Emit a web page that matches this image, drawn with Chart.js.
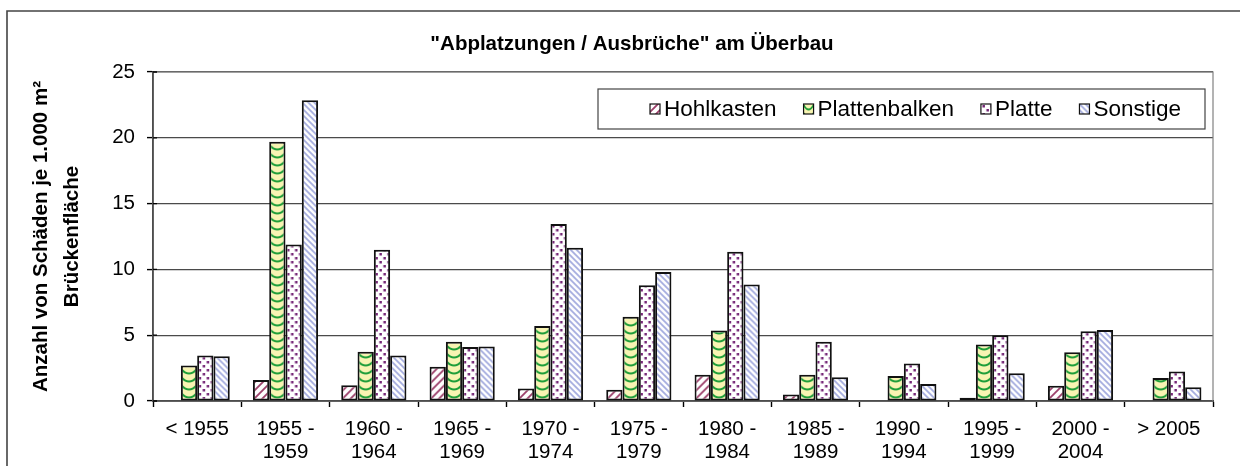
<!DOCTYPE html>
<html>
<head>
<meta charset="utf-8">
<script src="https://cdn.jsdelivr.net/npm/chart.js@4.4.1/dist/chart.umd.min.js"></script>
<style>
  html, body { margin: 0; padding: 0; background: #ffffff; overflow: hidden; }
  #c { display: block; width: 1240px; height: 466px; }
</style>
</head>
<body>
<canvas id="c" width="1240" height="466" style="width:1240px;height:466px;"></canvas>
<script>
// ---- data ----
const categories = ['< 1955', '1955 - 1959', '1960 - 1964', '1965 - 1969', '1970 - 1974', '1975 - 1979',
                    '1980 - 1984', '1985 - 1989', '1990 - 1994', '1995 - 1999', '2000 - 2004', '> 2005'];
const seriesNames = ['Hohlkasten', 'Plattenbalken', 'Platte', 'Sonstige'];
const hohlkasten    = [null, 1.6, 1.2, 2.6, 0.95, 0.85, 2.0, 0.5, null, 0.25, 1.15, null];
const plattenbalken = [2.7, 19.7, 3.75, 4.5, 5.7, 6.4, 5.35, 2.0, 1.9, 4.3, 3.7, 1.75];
const platte        = [3.45, 11.9, 11.5, 4.1, 13.45, 8.8, 11.35, 4.5, 2.85, 5.0, 5.3, 2.25];
const sonstige      = [3.4, 22.85, 3.45, 4.15, 11.65, 9.8, 8.85, 1.8, 1.3, 2.1, 5.4, 1.05];
const yTicks = [0, 5, 10, 15, 20, 25];
const chartTitle = '"Abplatzungen / Ausbrüche" am Überbau';
const yTitle = ['Anzahl von Schäden je 1.000 m²', 'Brückenfläche'];

const FONT = "'Liberation Sans', Arial, Helvetica, sans-serif";
const CAT_PCT = 0.738;

// labels: split "1955 - 1959" into two lines
const labels = categories.map(s => s.includes(' - ') ? [s.split(' - ')[0] + ' -', s.split(' - ')[1]] : s);

// ---- pattern tiles ----
function tile(w, h, draw) {
  const t = document.createElement('canvas');
  t.width = w; t.height = h;
  const g = t.getContext('2d');
  draw(g, w, h);
  return t;
}
const tiles = {
  hohl: tile(8, 8, (g, w, h) => {
    g.fillStyle = '#ffffff'; g.fillRect(0, 0, w, h);
    g.strokeStyle = '#9c3f6a'; g.lineWidth = 1.8;
    g.beginPath();
    g.moveTo(-1, h + 1); g.lineTo(w + 1, -1);
    g.moveTo(-1, 1); g.lineTo(1, -1);
    g.moveTo(w - 1, h + 1); g.lineTo(w + 1, h - 1);
    g.stroke();
  }),
  balken: tile(16, 8, (g, w, h) => {
    g.fillStyle = '#f8f4b2'; g.fillRect(0, 0, w, h);
    g.strokeStyle = '#1f9e3a'; g.lineWidth = 2;
    g.beginPath();
    g.moveTo(0, 1); g.quadraticCurveTo(8, 10, 16, 1);
    g.stroke();
  }),
  platte: tile(8, 8, (g, w, h) => {
    g.fillStyle = '#ffffff'; g.fillRect(0, 0, w, h);
    g.fillStyle = '#762878';
    g.fillRect(1.5, 1, 2.5, 2.5);
    g.fillRect(5.5, 5, 2.5, 2.5);
  }),
  sonst: tile(6, 6, (g, w, h) => {
    g.fillStyle = '#ffffff'; g.fillRect(0, 0, w, h);
    g.strokeStyle = '#a2aade'; g.lineWidth = 1.7;
    g.beginPath();
    g.moveTo(-1, -1); g.lineTo(w + 1, h + 1);
    g.moveTo(w - 1, -1); g.lineTo(w + 1, 1);
    g.moveTo(-1, h - 1); g.lineTo(1, h + 1);
    g.stroke();
  })
};
const kinds = ['hohl', 'balken', 'platte', 'sonst'];

function bg(kind) {
  return (c) => {
    const p = c.chart.ctx.createPattern(tiles[kind], 'repeat');
    if (c.type === 'data') {
      const xs = c.chart.scales.x;
      if (xs && xs.width) {
        const cw = xs.width / categories.length;
        const bw = cw * CAT_PCT / 4;
        const left = xs.getPixelForValue(c.dataIndex) - cw * CAT_PCT / 2 + c.datasetIndex * bw;
        const sx = kind === 'balken' ? bw / 16 : 1;
        p.setTransform(new DOMMatrix([sx, 0, 0, 1, left, 0]));
      }
    }
    return p;
  };
}

// ---- plugins ----
const framePlugin = {
  id: 'frame',
  beforeDraw(chart) {
    const ctx = chart.ctx;
    ctx.save();
    ctx.strokeStyle = '#444444';
    ctx.lineWidth = 1.6;
    ctx.beginPath();
    ctx.moveTo(7, 470); ctx.lineTo(7, 11); ctx.lineTo(1250, 11);
    ctx.stroke();
    ctx.restore();
  },
  beforeDatasetsDraw(chart) {
    const { left, top, right, bottom } = chart.chartArea;
    const ctx = chart.ctx;
    ctx.save();
    ctx.strokeStyle = '#808080';
    ctx.lineWidth = 1.2;
    ctx.strokeRect(left, top, right - left, bottom - top);
    // inner half of y tick marks (ticks cross the axis)
    ctx.strokeStyle = '#000000';
    ctx.lineWidth = 1.3;
    const ys = chart.scales.y;
    ctx.beginPath();
    yTicks.forEach(v => { const py = ys.getPixelForValue(v); ctx.moveTo(left, py); ctx.lineTo(left + 4, py); });
    ctx.stroke();
    ctx.restore();
  }
};

const legendPlugin = {
  id: 'boxLegend',
  afterDraw(chart) {
    const ctx = chart.ctx;
    const bx = 598, by = 89, bw = 607, bh = 40;
    ctx.save();
    ctx.fillStyle = '#ffffff';
    ctx.fillRect(bx, by, bw, bh);
    ctx.strokeStyle = '#444444';
    ctx.lineWidth = 1.2;
    ctx.strokeRect(bx, by, bw, bh);
    ctx.font = '22.5px ' + FONT;
    ctx.textBaseline = 'middle';
    ctx.textAlign = 'left';
    const cy = by + bh / 2;
    let x = 650;
    seriesNames.forEach((name, i) => {
      const sw = 10, sh = 10;
      const p = ctx.createPattern(tiles[kinds[i]], 'repeat');
      p.setTransform(new DOMMatrix([kinds[i] === 'balken' ? sw / 16 : 1, 0, 0, 1, x, cy - sh / 2]));
      ctx.fillStyle = p;
      ctx.fillRect(x, cy - sh / 2, sw, sh);
      ctx.strokeStyle = '#111111';
      ctx.lineWidth = 1.2;
      ctx.strokeRect(x, cy - sh / 2, sw, sh);
      ctx.fillStyle = '#000000';
      const tx = x + sw + 4;
      ctx.fillText(name, tx, cy + 1);
      x = tx + ctx.measureText(name).width + 27;
    });
    ctx.restore();
  }
};

// ---- chart ----
const seriesValues = [hohlkasten, plattenbalken, platte, sonstige];
new Chart(document.getElementById('c'), {
  type: 'bar',
  data: {
    labels: labels,
    datasets: seriesNames.map((name, i) => ({
      label: name,
      data: seriesValues[i],
      backgroundColor: bg(kinds[i]),
      borderColor: '#111111',
      borderWidth: 2,
      borderSkipped: false,
      categoryPercentage: CAT_PCT,
      barPercentage: 1.0
    }))
  },
  options: {
    responsive: false,
    maintainAspectRatio: false,
    devicePixelRatio: 1,
    animation: false,
    events: [],
    layout: { padding: { left: 24, right: 0, top: 0, bottom: 0 } },
    plugins: {
      legend: { display: false },
      tooltip: { enabled: false },
      title: {
        display: true,
        text: chartTitle,
        color: '#000000',
        font: { family: FONT, size: 20.5, weight: 'bold', lineHeight: 1.2 },
        padding: { top: 31.7, bottom: 15.7 }
      }
    },
    scales: {
      x: {
        type: 'category',
        offset: true,
        grid: { display: true, drawOnChartArea: false, offset: true, tickLength: 6, tickColor: '#000000', tickWidth: 1.4 },
        border: { display: true, color: '#000000', width: 1.8 },
        ticks: { color: '#000000', padding: 11, maxRotation: 0, autoSkip: false,
                 font: { family: FONT, size: 20.5, lineHeight: 1.12 } },
        afterFit(s) { s.height = 65; }
      },
      y: {
        type: 'linear',
        min: 0, max: 25,
        afterBuildTicks(s) { s.ticks = yTicks.map(v => ({ value: v })); },
        grid: { color: '#4a4a4a', lineWidth: 1.2, tickLength: 6, tickColor: '#000000', tickWidth: 1.4 },
        border: { display: true, color: '#000000', width: 1.8 },
        ticks: { color: '#000000', padding: 12, font: { family: FONT, size: 20.5 } },
        title: {
          display: true,
          text: yTitle,
          color: '#000000',
          font: { family: FONT, size: 20.5, weight: 'bold', lineHeight: 1.5 },
          padding: { top: 2.1, bottom: 0 }
        },
        afterFit(s) { s.width = 129; }
      },
      y2: {
        type: 'linear',
        position: 'right',
        display: true,
        grid: { display: false, drawTicks: false },
        border: { display: false },
        ticks: { display: false },
        afterFit(s) { s.width = 27; }
      }
    }
  },
  plugins: [framePlugin, legendPlugin]
});
</script>
</body>
</html>
